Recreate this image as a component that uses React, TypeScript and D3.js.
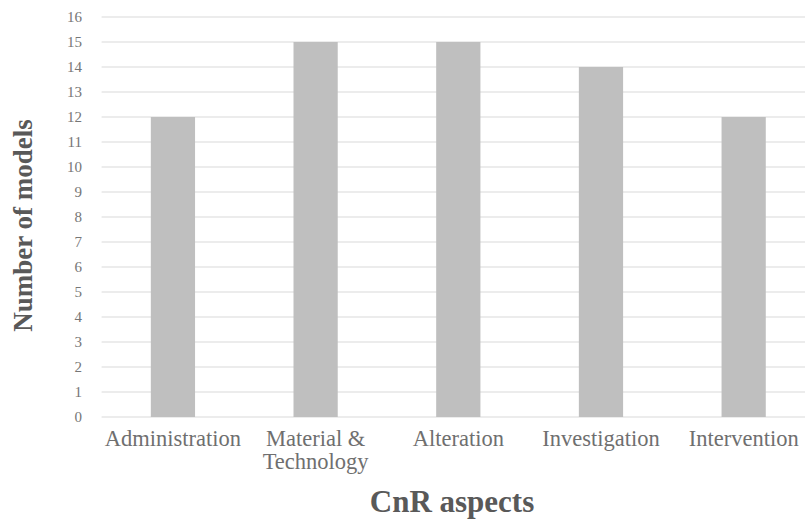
import React from "react";
import * as d3 from "d3";

const categories = ["Administration", "Material &\nTechnology", "Alteration", "Investigation", "Intervention"];
const values = [12, 15, 15, 14, 12];
const yTicks = d3.range(0, 17);

const W = 805, H = 519;
const left = 101.6, right = 815, top = 17, bottom = 417;

export default function App() {
  const x = d3.scaleBand<string>().domain(categories).range([left, right]).paddingInner(0.69).paddingOuter(0.345);
  const y = d3.scaleLinear().domain([0, 16]).range([bottom, top]);
  const font = "'Liberation Serif', 'Times New Roman', serif";
  return (
    <svg width={W} height={H} style={{ position: "absolute", left: 0, top: 0, background: "#fff" }}>
      {yTicks.map(t => (
        <g key={t}>
          <line x1={left} x2={W} y1={y(t)} y2={y(t)} stroke="#d9d9d9" strokeWidth={1} />
          <text x={82} y={y(t)} dy="0.35em" textAnchor="end" fontFamily={font} fontSize={15} fill="#767676">{t}</text>
        </g>
      ))}
      {categories.map((c, i) => (
        <rect key={c} x={x(c)} y={y(values[i])} width={x.bandwidth()} height={y(0) - y(values[i])} fill="#bfbfbf" />
      ))}
      {categories.map(c => {
        const lines = c.split("\n");
        const cx = (x(c) as number) + x.bandwidth() / 2;
        return (
          <text key={c} x={cx} y={446} textAnchor="middle" fontFamily={font} fontSize={22.5} fill="#6f6f6f">
            {lines.map((l, j) => <tspan key={j} x={cx} dy={j === 0 ? 0 : 23}>{l}</tspan>)}
          </text>
        );
      })}
      <text x={452} y={512} textAnchor="middle" fontFamily={font} fontSize={31} fontWeight="bold" fill="#595959">CnR aspects</text>
      <text transform={`translate(32,225.5) rotate(-90)`} textAnchor="middle" fontFamily={font} fontSize={27} fontWeight="bold" fill="#595959">Number of models</text>
    </svg>
  );
}
